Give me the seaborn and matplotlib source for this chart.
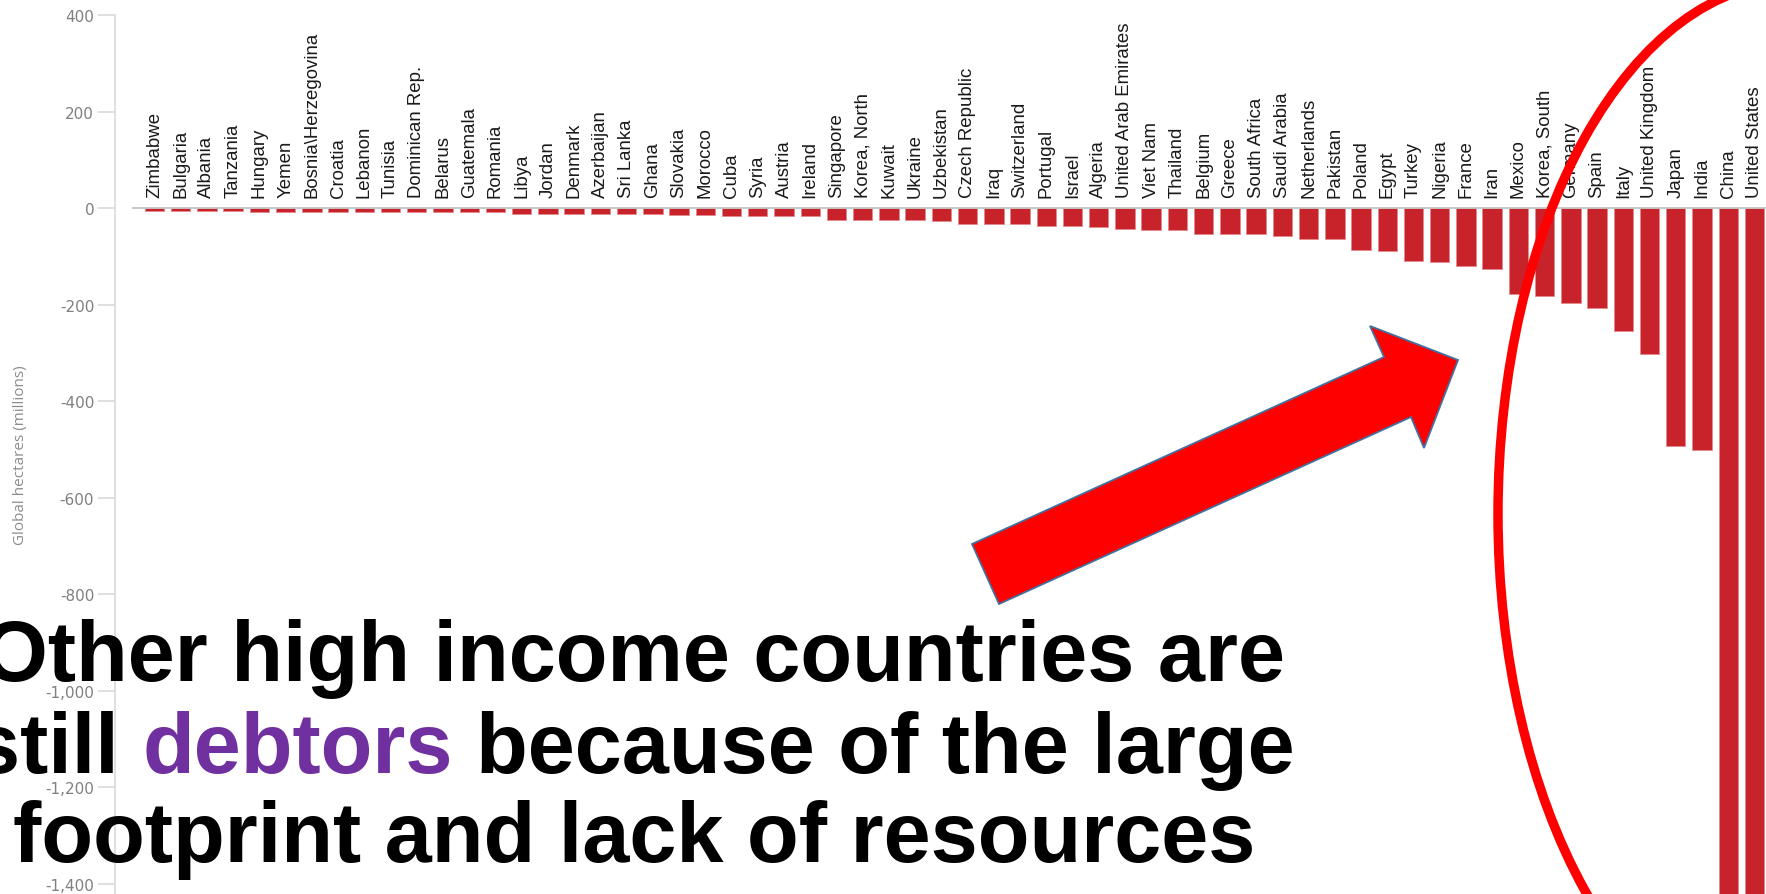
import matplotlib
matplotlib.use("Agg")
import matplotlib.pyplot as plt
import numpy as np
import pandas as pd
import seaborn as sns
from matplotlib.patches import Ellipse, Polygon
from matplotlib.ticker import FuncFormatter

# ---------------- data ----------------
countries = [
    "Zimbabwe", "Bulgaria", "Albania", "Tanzania", "Hungary", "Yemen",
    "Bosnia\\Herzegovina", "Croatia", "Lebanon", "Tunisia", "Dominican Rep.",
    "Belarus", "Guatemala", "Romania", "Libya", "Jordan", "Denmark",
    "Azerbaijan", "Sri Lanka", "Ghana", "Slovakia", "Morocco", "Cuba", "Syria",
    "Austria", "Ireland", "Singapore", "Korea, North", "Kuwait", "Ukraine",
    "Uzbekistan", "Czech Republic", "Iraq", "Switzerland", "Portugal", "Israel",
    "Algeria", "United Arab Emirates", "Viet Nam", "Thailand", "Belgium",
    "Greece", "South Africa", "Saudi Arabia", "Netherlands", "Pakistan",
    "Poland", "Egypt", "Turkey", "Nigeria", "France", "Iran", "Mexico",
    "Korea, South", "Germany", "Spain", "Italy", "United Kingdom", "Japan",
    "India", "China", "United States",
]
deficits = [
    -6, -6, -6, -6, -9, -9,
    -9, -9, -9, -9, -9,
    -9, -9, -9, -12, -12, -12,
    -12, -12, -12, -14, -14, -17, -17,
    -17, -17, -24, -24, -24, -24,
    -27, -32, -34, -34, -37, -37,
    -40, -43, -46, -46, -54,
    -54, -54, -57, -65, -65,
    -86, -88, -110, -112, -119, -127, -179,
    -183, -197, -208, -254, -302, -492,
    -501, -1600, -1650,
]
y_ticks = [400, 200, 0, -200, -400, -600, -800, -1000, -1200, -1400]
y_label = "Global hectares (millions)"
headline = ["Other high income countries are",
            ["still ", "debtors", " because of the large"],
            "footprint and lack of resources"]

# ---------------- styling ----------------
W, H = 1766, 895
BAR = "#C8222B"
sns.set_style("white")
plt.rcParams["font.family"] = ["Liberation Sans", "DejaVu Sans"]

fig = plt.figure(figsize=(W / 100, H / 100), dpi=100)
fig.patch.set_facecolor("white")
ax = fig.add_axes([115 / W, 0, 1 - 115 / W, (H - 16) / H])

df = pd.DataFrame({"country": countries, "deficit": deficits})
sns.barplot(data=df, x="country", y="deficit", color=BAR, saturation=1,
            width=0.74, edgecolor="#e2898e", linewidth=0.6, ax=ax)

ax.set_xlim(-1.506, 61.44)
ax.set_ylim(-1421, 400)

# zero line
ax.hlines(0, -0.86, 61.44, color="#c4c4c4", lw=1.3, zorder=4)

# axes styling
for s in ["top", "right", "bottom"]:
    ax.spines[s].set_visible(False)
ax.spines["left"].set_color("#d9d9d9")
ax.spines["left"].set_linewidth(1.2)
ax.set_xticks([])
ax.set_xlabel("")
ax.set_yticks(y_ticks)
ax.yaxis.set_major_formatter(FuncFormatter(lambda v, p: f"{int(v):,}"))
ax.tick_params(axis="y", left=True, length=12, width=1.2, color="#d9d9d9",
               labelsize=11, labelcolor="#808080", pad=3,
               labelfontfamily="DejaVu Sans")
ax.set_ylabel(y_label, fontsize=11, color="#8c8c8c", family="Open Sans")
ax.yaxis.set_label_coords((28 - 115) / (W - 115), 0.5)

# country labels above the zero line
for i, name in enumerate(countries):
    ax.text(i, 22, name, rotation=90, ha="center", va="bottom",
            fontsize=13.4, color="#1a1a1a")

# ---------------- annotations ----------------
def fxy(x, y):
    return (x / W, 1 - y / H)

# red ellipse
ell = Ellipse(fxy(1794, 515), width=2 * 296 / W, height=2 * 532 / H,
              transform=fig.transFigure, fill=False, edgecolor="#FF0000",
              lw=6.8, zorder=6)
fig.add_artist(ell)

# block arrow
arrow_pts = [(972, 545), (999, 605), (1411, 418), (1424, 449),
             (1458, 361), (1370, 327), (1384, 358)]
arr = Polygon([fxy(x, y) for x, y in arrow_pts], closed=True,
              transform=fig.transFigure, facecolor="#FF0000",
              edgecolor="#41719C", lw=1.3, zorder=6)
fig.add_artist(arr)

# big headline text
big = dict(fontsize=61, fontweight="bold", va="baseline",
           family=["Liberation Sans", "DejaVu Sans"], zorder=7)
CX = 634
fig.text(*fxy(CX, 681), headline[0], ha="center", color="black", **big)
fig.text(*fxy(CX, 862), headline[2], ha="center", color="black", **big)

renderer = fig.canvas.get_renderer()


def text_width(s):
    t = fig.text(0, 0, s, **big)
    w = t.get_window_extent(renderer).width
    t.remove()
    return w


p1, p2, p3 = headline[1]
full = p1 + p2 + p3
wf = text_width(full)
left = CX - wf / 2
x_deb = left + text_width(p1 + p2) - text_width(p2)
fig.text(*fxy(left, 773), p1, ha="left", color="black", **big)
fig.text(*fxy(x_deb, 773), p2, ha="left", color="#7030A0", **big)
fig.text(*fxy(left + wf, 773), p3.strip(), ha="right", color="black", **big)

fig.savefig("out.png", dpi=100, facecolor="white")
